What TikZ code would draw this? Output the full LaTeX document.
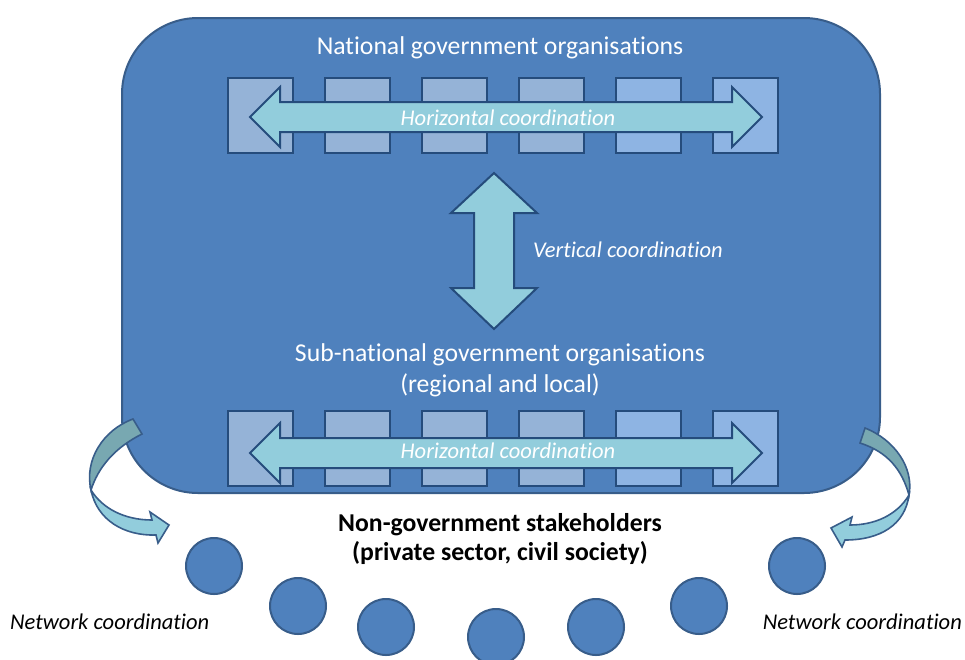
\documentclass[tikz,border=0pt]{standalone}
\usepackage{fontspec}
\setmainfont{Carlito}[Ligatures=NoCommon]
\usetikzlibrary{positioning}
\definecolor{govblue}{HTML}{4F81BD}
\definecolor{govline}{HTML}{385D8A}
\definecolor{boxline}{HTML}{254C7C}
\definecolor{boxfill}{HTML}{95B3D7}
\definecolor{boxfillb}{HTML}{8EB4E3}
\definecolor{arrowfill}{HTML}{92CDDC}
\definecolor{tealfill}{HTML}{78A8B1}
\begin{document}
\begin{tikzpicture}[x=1pt,y=-1pt,
  orgbox/.style={draw=boxline, line width=2pt, minimum width=65pt, minimum height=75pt, inner sep=0pt},
  coordarrow/.style={draw=boxline, line width=2pt, fill=arrowfill, line join=miter},
  bendarrow/.style={draw=govline, line width=1.6pt, line join=miter},
  stake/.style={circle, draw=govline, line width=2pt, fill=govblue, minimum size=56pt, inner sep=0pt},
  bigtext/.style={font=\fontsize{25.7}{31}\selectfont},
  ittext/.style={font=\fontsize{22.5}{27}\selectfont\itshape}]
  \clip (0,0) rectangle (965,659);

  % government block
  \node[draw=govline, line width=2pt, fill=govblue, rounded corners=76pt, minimum width=758pt, minimum height=475pt] (gov) at (501,255.5) {};

  % organisation boxes, two rows
  \foreach \i/\c in {1/boxfill,2/boxfill,3/boxfill,4/boxfill,5/boxfillb,6/boxfillb} {
    \node[orgbox, fill=\c] (t\i) at ({260+97*(\i-1)},115.5) {};
    \node[orgbox, fill=\c] (b\i) at ({260+97*(\i-1)},448.5) {};
  }

  % horizontal arrows
  \foreach \yy in {117,453}
    \filldraw[coordarrow] (250,\yy) -- (280,\yy-30) -- (280,\yy-15) -- (732,\yy-15) -- (732,\yy-30) -- (762,\yy)
      -- (732,\yy+30) -- (732,\yy+15) -- (280,\yy+15) -- (280,\yy+30) -- cycle;

  % vertical arrow
  \filldraw[coordarrow] (494,173) -- (537,213) -- (514,213) -- (514,288) -- (537,288) -- (494,329)
    -- (451,288) -- (474,288) -- (474,213) -- (451,213) -- cycle;

  % network arrows, left and right
  \filldraw[bendarrow, fill=tealfill] (133,419) .. controls (103,430) and (84,460) .. (91,490)
    .. controls (98,468) and (114,448) .. (142,434) -- cycle;
  \filldraw[bendarrow, fill=arrowfill] (91,490) .. controls (97,520) and (124,536) .. (156,535) -- (158,543) -- (169,525)
    -- (150,512) -- (152,520) .. controls (124,520) and (102,508) .. (91,490) -- cycle;
  \filldraw[bendarrow, fill=tealfill] (865,428) .. controls (895,440) and (914,468) .. (909,495)
    .. controls (902,470) and (888,452) .. (860,443) -- cycle;
  \filldraw[bendarrow, fill=arrowfill] (909,495) .. controls (905,525) and (880,540) .. (845,540) -- (842,547) -- (831,528)
    -- (852,517) -- (850,525) .. controls (875,525) and (897,515) .. (909,495) -- cycle;

  % stakeholders
  \foreach \cx/\cy [count=\n] in {214/566,298/606,386/627,496/637,596/627,699/606,797/566}
    \node[stake] (s\n) at (\cx,\cy) {};

  % labels
  \node[bigtext, white, anchor=base] (natlabel) at (500,54) {National government organisations};
  \node[ittext, white, anchor=base] (hortop) at (508,125) {Horizontal coordination};
  \node[ittext, white, anchor=base west, inner sep=0pt] (vertlabel) at (533,257) {Vertical coordination};
  \node[bigtext, white, align=center] (sublabel) at (500,370) {Sub-national government organisations\\(regional and local)};
  \node[ittext, white, anchor=base] (horbottom) at (508,458) {Horizontal coordination};
  \node[font=\fontsize{25.7}{29.5}\selectfont\bfseries, align=center] (stakelabel) at (500,539) {Non-government stakeholders\\(private sector, civil society)};
  \node[ittext, anchor=base west, inner sep=0pt] (netleft) at (10,629) {Network coordination};
  \node[ittext, anchor=base east, inner sep=0pt] (netright) at (962,629) {Network coordination};
\end{tikzpicture}
\end{document}
